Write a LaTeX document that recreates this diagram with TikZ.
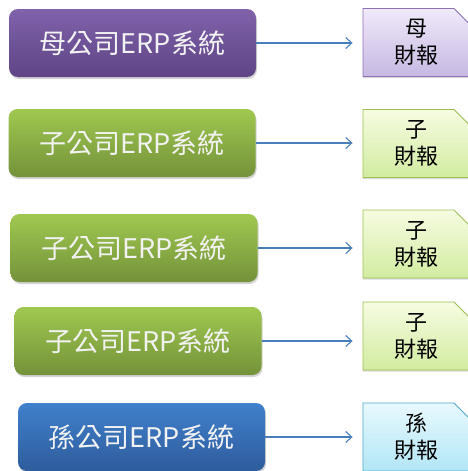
\documentclass[tikz,border=0pt]{standalone}
\usepackage{fontspec}
\usepackage{tikz}
\usetikzlibrary{shapes.misc,arrows.meta,shadows}
\newfontfamily\cjk{Noto Sans CJK TC}

\definecolor{muTop}{RGB}{128,98,170}
\definecolor{muBot}{RGB}{94,68,134}
\definecolor{ziTop}{RGB}{160,200,80}
\definecolor{ziBot}{RGB}{116,146,58}
\definecolor{sunTop}{RGB}{64,128,204}
\definecolor{sunBot}{RGB}{46,92,156}
\definecolor{muDocTop}{RGB}{240,234,250}
\definecolor{muDocBot}{RGB}{198,184,226}
\definecolor{muDocLine}{RGB}{140,112,184}
\definecolor{ziDocTop}{RGB}{246,252,226}
\definecolor{ziDocBot}{RGB}{210,236,160}
\definecolor{ziDocLine}{RGB}{156,192,84}
\definecolor{sunDocTop}{RGB}{232,249,254}
\definecolor{sunDocBot}{RGB}{178,230,246}
\definecolor{sunDocLine}{RGB}{76,170,200}
\definecolor{arrowblue}{RGB}{74,126,187}

\begin{document}
\begin{tikzpicture}[x=1pt,y=1pt]
		\tikzset{sysbox/.style={rounded corners=9pt,minimum width=247pt,minimum height=68pt,
				inner sep=0pt,text=white!95!black,font=\cjk\fontsize{27}{32}\selectfont,
				top color=#1Top,bottom color=#1Bot,
				drop shadow={shadow xshift=1pt,shadow yshift=-2pt,opacity=0.35}}};
		\tikzset{repdoc/.style={chamfered rectangle,chamfered rectangle corners=north east,
				chamfered rectangle xsep=8pt,chamfered rectangle ysep=8pt,
				minimum width=107pt,minimum height=68pt,inner sep=0pt,draw=#1DocLine,line width=0.9pt,
				top color=#1DocTop,bottom color=#1DocBot,align=center,
				font=\cjk\fontsize{22}{27}\selectfont,
				drop shadow={shadow xshift=0pt,shadow yshift=-1.5pt,opacity=0.3}}};
		\tikzset{feed/.style={-{Straight Barb[length=6pt,width=11pt]},draw=arrowblue,line width=1.1pt,shorten >=10pt}};
		
		\useasboundingbox (0,0) rectangle (467,-471);
		\foreach \n/\bx/\by/\dy/\c/\head in {1/132.5/-43/-42.5/mu/母,2/132/-143/-143.5/zi/子,
			3/134/-248/-244/zi/子,4/138/-341/-336/zi/子,5/141.5/-437/-437/sun/孫}
		{
			\node (box\n) at (\bx,\by) [sysbox=\c] {\head 公司ERP系統};
			\node (doc\n) at (416.5,\dy) [repdoc=\c] {\head\\財報};
			\draw [feed] (box\n.east) -- (box\n.east -| doc\n.west);
		}
\end{tikzpicture}
\end{document}
